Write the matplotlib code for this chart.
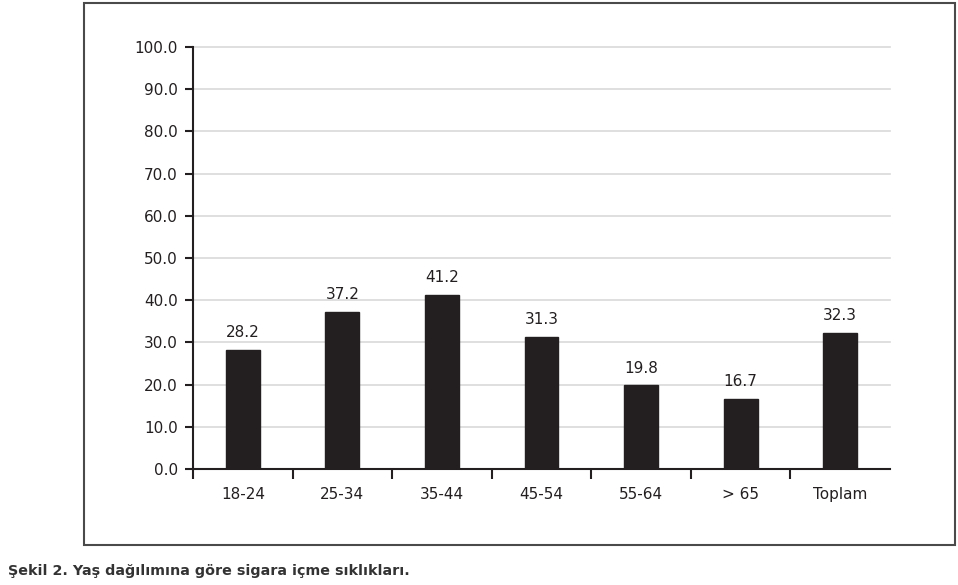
import numpy as np
import matplotlib
matplotlib.use('Agg')
import matplotlib.pyplot as plt
from matplotlib.patches import Rectangle

# Age groups and smoking frequency (%)
categories = ['18-24', '25-34', '35-44', '45-54', '55-64', '> 65', 'Toplam']
values = [28.2, 37.2, 41.2, 31.3, 19.8, 16.7, 32.3]
yticks = [0, 10, 20, 30, 40, 50, 60, 70, 80, 90, 100]
caption = 'Şekil 2. Yaş dağılımına göre sigara içme sıklıkları.'

BAR_COLOR = '#231f20'
AXIS_COLOR = '#231f20'
TEXT_COLOR = '#231f20'

plt.rcParams['font.family'] = ['DejaVu Sans']

fig = plt.figure(figsize=(9.58, 5.85), dpi=100)
ax = fig.add_axes([0.2015, 0.1983, 0.7275, 0.7214])

x = np.arange(len(categories)) + 0.5
bars = ax.bar(x, values, width=0.34, color=BAR_COLOR, edgecolor=BAR_COLOR, zorder=3)

for xi, v in zip(x, values):
    ax.annotate('%.1f' % v, (xi, v), xytext=(0, 7), textcoords='offset points',
                ha='center', va='bottom', fontsize=11, color=TEXT_COLOR)

ax.set_xlim(0, len(categories))
ax.set_ylim(0, 100)
ax.set_yticks(yticks)
ax.set_yticklabels(['%.1f' % t for t in yticks])
ax.yaxis.grid(True, color='#d9d9d9', linewidth=1.2, zorder=0)
ax.set_axisbelow(True)
for gl in ax.get_ygridlines():
    gl.set_clip_on(False)

# labels at bar centres, tick marks on category boundaries (none at the far end)
ax.set_xticks(x)
ax.set_xticklabels(categories)
ax.set_xticks(np.arange(len(categories)), minor=True)
ax.tick_params(axis='x', which='major', length=0, pad=13, labelsize=11, colors=TEXT_COLOR)
ax.tick_params(axis='x', which='minor', length=7, width=1.5, direction='out', color=AXIS_COLOR)
ax.tick_params(axis='y', length=6, width=1.5, direction='out', pad=5, labelsize=11,
               colors=TEXT_COLOR)

for side in ['top', 'right']:
    ax.spines[side].set_visible(False)
for side in ['left', 'bottom']:
    ax.spines[side].set_color(AXIS_COLOR)
    ax.spines[side].set_linewidth(1.5)

# outer frame around the chart
frame = Rectangle((0.0877, 0.0684), 0.9092, 0.9265, transform=fig.transFigure,
                  fill=False, edgecolor='#4a4a4a', linewidth=1.5)
fig.patches.append(frame)

fig.text(0.008, 0.024, caption, ha='left', va='center', fontsize=10.3,
         fontweight='bold', color='#333333')

fig.savefig('out.png', dpi=100)
